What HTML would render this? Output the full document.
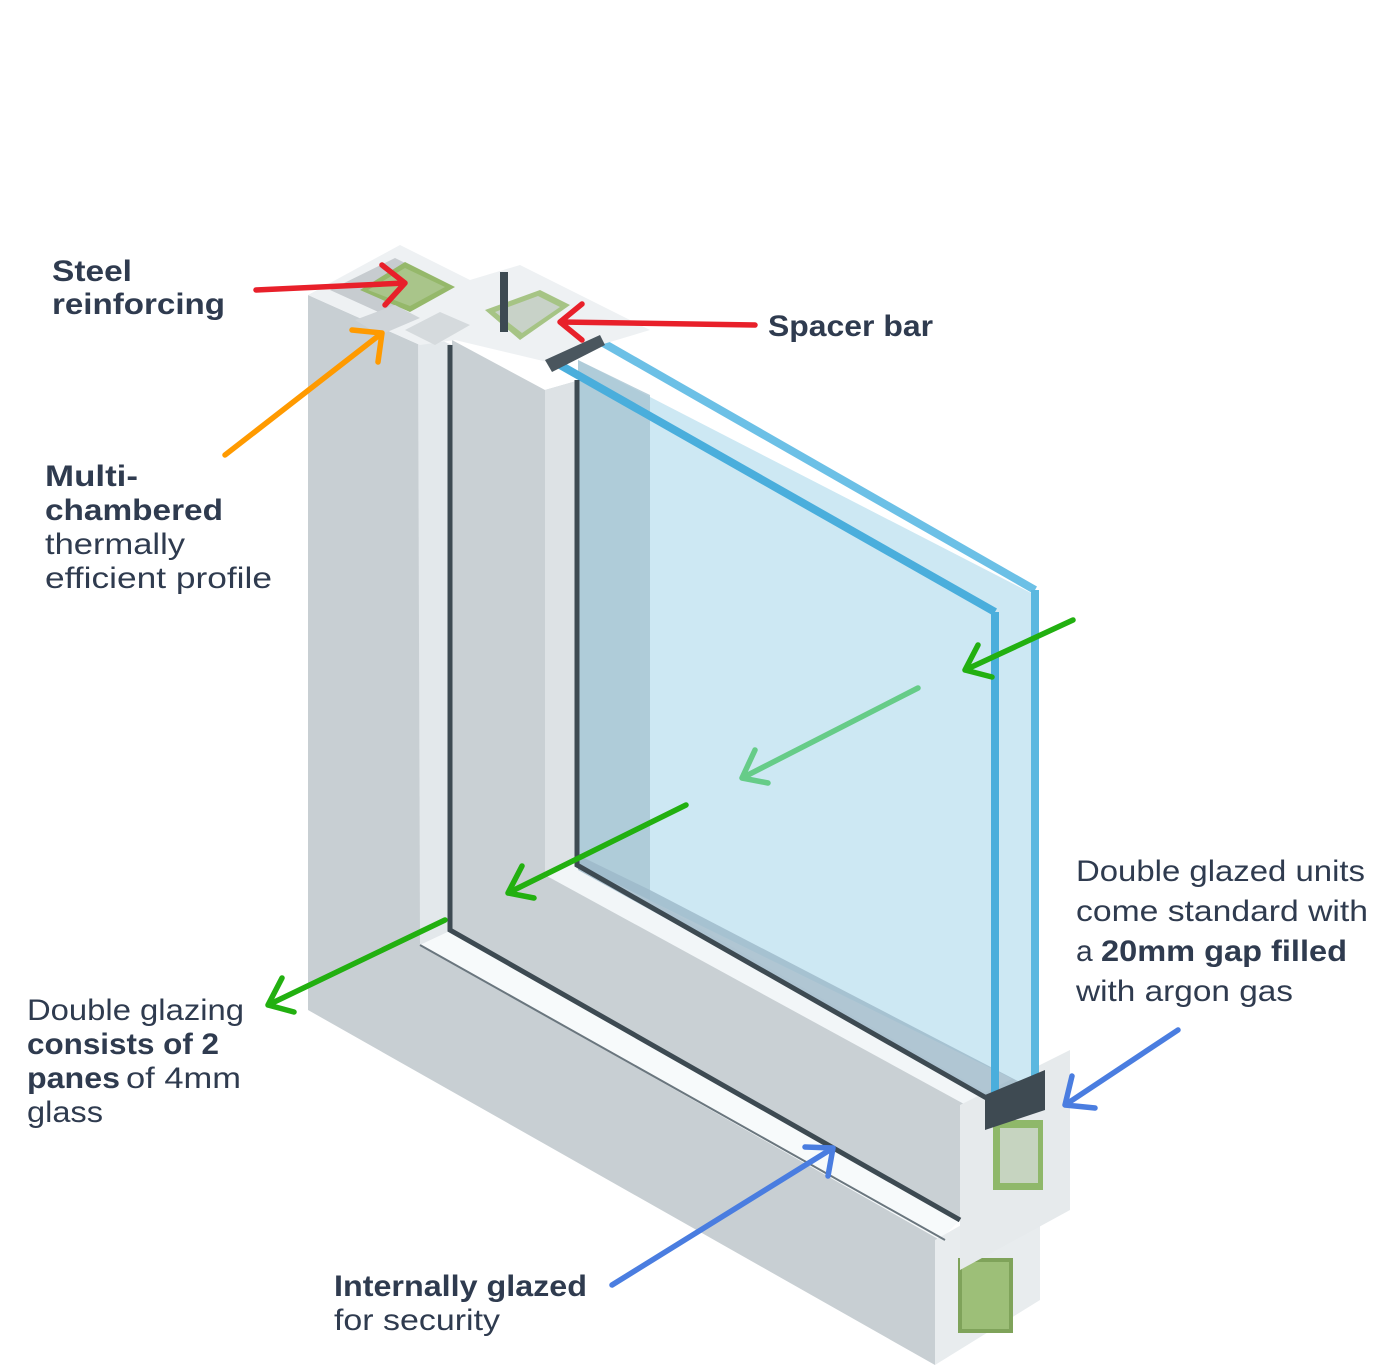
<!DOCTYPE html>
<html><head><meta charset="utf-8"><style>
html,body{margin:0;padding:0;background:#fff;}
svg{display:block;}
text{font-family:"Liberation Sans",sans-serif;fill:#2f3b4f;font-size:30px;}
.b{font-weight:bold;}
</style></head><body>
<svg width="1374" height="1371" viewBox="0 0 1374 1371" xmlns="http://www.w3.org/2000/svg">
<!-- outer frame -->
<polygon points="308,295 420,345 420,945 960,1250 935,1365 308,1010" fill="#c8cfd3"/>
<polygon points="418,330 452,345 452,930 420,945" fill="#e3e8eb"/>
<polygon points="420,945 452,930 962,1218 940,1240" fill="#f7fafb"/>
<polygon points="935,1240 1040,1180 1040,1300 935,1365" fill="#e8ecee"/>
<rect x="958" y="1258" width="55" height="75" fill="#7fa35a"/>
<rect x="962" y="1262" width="47" height="67" fill="#9dbf78"/>
<!-- sash -->
<polygon points="452,340 545,390 580,380 580,860 990,1095 990,1215 960,1220 452,930" fill="#c9d0d4"/>
<polygon points="545,390 580,380 580,860 545,875" fill="#dde2e5"/>
<polygon points="545,875 580,860 990,1095 975,1110" fill="#f2f6f8"/>
<polygon points="960,1105 1070,1050 1070,1210 960,1270" fill="#e6eaec"/>
<rect x="993" y="1120" width="50" height="70" fill="#8fb86a"/>
<rect x="1000" y="1128" width="38" height="55" fill="#c6d4c0"/>
<!-- glass -->
<polygon points="578,360 1035,595 1035,1090 578,865" fill="#cde8f3"/>
<polygon points="578,360 650,395 650,900 578,865" fill="#a8c4d2" opacity="0.8"/>
<polygon points="578,855 650,890 1035,1090 995,1100 578,870" fill="#9cb8c8" opacity="0.8"/>
<line x1="598" y1="340" x2="1035" y2="590" stroke="#6cc0e6" stroke-width="8"/>
<line x1="1035" y1="590" x2="1035" y2="1095" stroke="#5bb8e0" stroke-width="8"/>
<line x1="560" y1="365" x2="995" y2="612" stroke="#4aaedc" stroke-width="8"/>
<line x1="995" y1="612" x2="995" y2="1105" stroke="#4aaedc" stroke-width="8"/>
<polygon points="985,1095 1045,1070 1045,1110 985,1130" fill="#3e4a52"/>
<!-- dark gasket lines -->
<polyline points="450,345 450,930 960,1220" fill="none" stroke="#3d4a52" stroke-width="5"/>
<polyline points="577,380 577,865 990,1100" fill="none" stroke="#3d4a52" stroke-width="5"/>
<line x1="420" y1="945" x2="945" y2="1240" stroke="#6a767e" stroke-width="2"/>
<!-- top cross section -->
<polygon points="308,295 400,245 470,280 520,265 650,330 600,345 560,365 455,340 420,345" fill="#eef1f3"/>
<polygon points="330,290 395,258 450,285 385,315" fill="#c7ccd0"/>
<polygon points="360,290 405,262 455,287 410,312" fill="#95b86a"/>
<polygon points="368,290 405,268 445,287 410,306" fill="#a9c58a"/>
<polygon points="485,310 540,290 570,305 520,340" fill="#a6c485"/>
<polygon points="495,312 538,296 560,307 522,333" fill="#c8d2c8"/>
<rect x="500" y="272" width="8" height="60" fill="#3d4a52"/>
<polygon points="545,360 600,335 605,345 552,372" fill="#4a565e"/>
<polygon points="355,320 395,305 420,318 380,335" fill="#cfd4d8"/>
<polygon points="405,330 440,312 470,325 435,345" fill="#d5dadd"/>
<!-- arrows -->
<g fill="none" stroke-width="5.5" stroke-linecap="round" stroke-linejoin="round">
<path d="M256,290 L405,283 M382,265 L405,283 L385,305" stroke="#e8202a"/>
<path d="M755,325 L560,322 M582,304 L560,322 L582,340" stroke="#e8202a"/>
<path d="M225,455 L382,333 M352,330 L382,333 L378,362" stroke="#ff9a00"/>
<path d="M1073,620 L965,670 M978,645 L965,670 L992,677" stroke="#22b010"/>
<path d="M918,688 L742,778 M755,750 L742,778 L768,783" stroke="#66cc88"/>
<path d="M686,805 L508,893 M522,866 L508,893 L534,898" stroke="#22b010"/>
<path d="M445,920 L268,1005 M282,978 L268,1005 L294,1012" stroke="#22b010"/>
<path d="M1178,1030 L1065,1105 M1072,1076 L1065,1105 L1095,1108" stroke="#4a7de0"/>
<path d="M612,1285 L833,1148 M805,1147 L833,1148 L828,1176" stroke="#4a7de0"/>
</g>
<!-- labels -->
<text x="52" y="281" class="b" textLength="80" lengthAdjust="spacingAndGlyphs">Steel</text>
<text x="52" y="314" class="b" textLength="173" lengthAdjust="spacingAndGlyphs">reinforcing</text>
<text x="768" y="336" class="b" textLength="165" lengthAdjust="spacingAndGlyphs">Spacer bar</text>
<text x="45" y="486" class="b" textLength="93" lengthAdjust="spacingAndGlyphs">Multi-</text>
<text x="45" y="520" class="b" textLength="178" lengthAdjust="spacingAndGlyphs">chambered</text>
<text x="45" y="554" textLength="140" lengthAdjust="spacingAndGlyphs">thermally</text>
<text x="45" y="588" textLength="227" lengthAdjust="spacingAndGlyphs">efficient profile</text>
<text x="1076" y="881" textLength="289" lengthAdjust="spacingAndGlyphs">Double glazed units</text>
<text x="1076" y="921" textLength="292" lengthAdjust="spacingAndGlyphs">come standard with</text>
<text x="1076" y="961">a</text>
<text x="1101" y="961" class="b" textLength="246" lengthAdjust="spacingAndGlyphs">20mm gap filled</text>
<text x="1076" y="1001" textLength="217" lengthAdjust="spacingAndGlyphs">with argon gas</text>
<text x="27" y="1020" textLength="217" lengthAdjust="spacingAndGlyphs">Double glazing</text>
<text x="27" y="1054" class="b" textLength="192" lengthAdjust="spacingAndGlyphs">consists of 2</text>
<text x="27" y="1088" class="b" textLength="93" lengthAdjust="spacingAndGlyphs">panes</text>
<text x="126" y="1088" textLength="115" lengthAdjust="spacingAndGlyphs">of 4mm</text>
<text x="27" y="1122" textLength="76" lengthAdjust="spacingAndGlyphs">glass</text>
<text x="334" y="1296" class="b" textLength="253" lengthAdjust="spacingAndGlyphs">Internally glazed</text>
<text x="334" y="1330" textLength="166" lengthAdjust="spacingAndGlyphs">for security</text>
</svg>
</body></html>
